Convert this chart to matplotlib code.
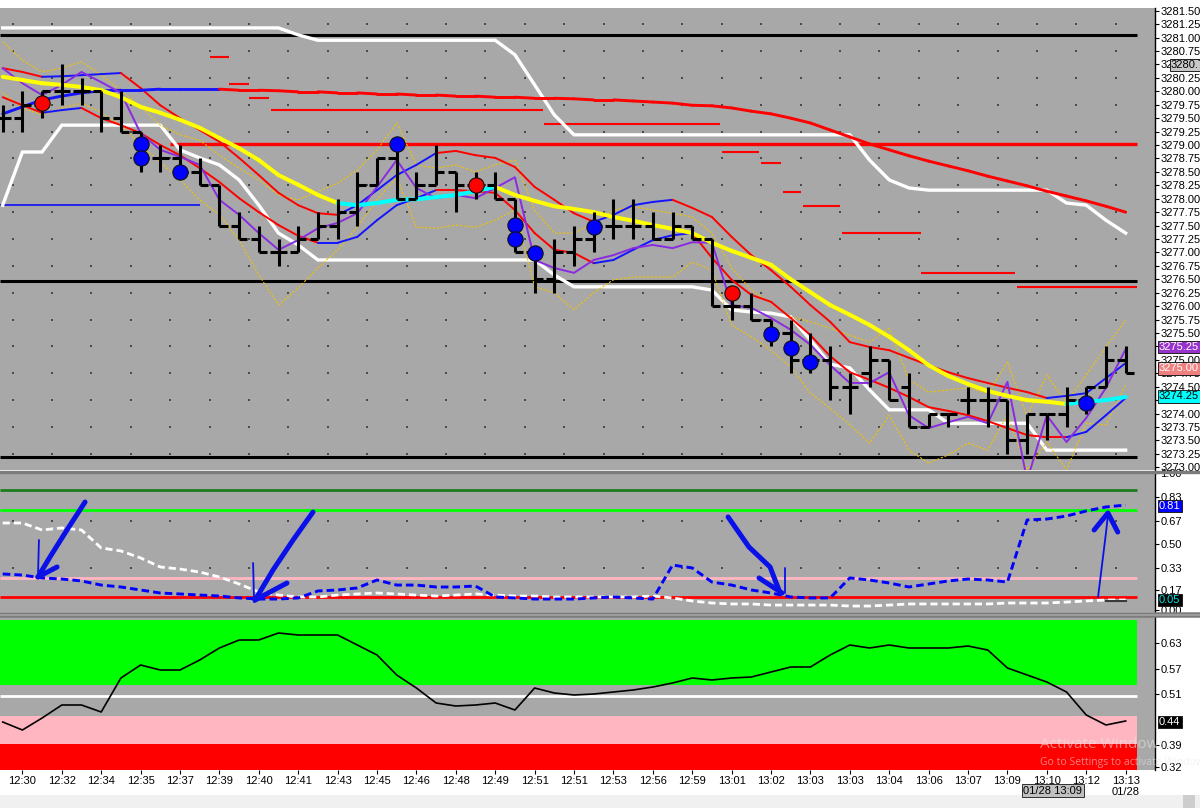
import numpy as np
import matplotlib
matplotlib.use("Agg")
import matplotlib.pyplot as plt
from matplotlib.collections import LineCollection
from matplotlib.lines import Line2D
from matplotlib.patches import Rectangle

plt.rcParams['font.family'] = ['Liberation Sans', 'DejaVu Sans']

# ------------------------------------------------------------------ data
time_labels = ["12:30", "12:32", "12:34", "12:35", "12:37", "12:39", "12:40", "12:41",
               "12:43", "12:45", "12:46", "12:48", "12:49", "12:51", "12:51", "12:53",
               "12:56", "12:59", "13:01", "13:02", "13:03", "13:03", "13:04", "13:06",
               "13:07", "13:09", "13:10", "13:12", "13:13\n01/28"]

opens = [3279.50, 3279.50, 3279.75, 3280.00, 3280.00, 3280.00, 3279.50, 3279.25, 3278.75, 3278.75,
         3278.50, 3278.25, 3277.50, 3277.25, 3277.00, 3277.00, 3277.25, 3277.50, 3277.75, 3278.25,
         3278.75, 3278.00, 3278.25, 3278.50, 3278.25, 3278.25, 3278.00, 3277.00, 3276.50, 3277.00,
         3277.25, 3277.50, 3277.50, 3277.50, 3277.25, 3277.50, 3277.25, 3276.00, 3276.00, 3275.75,
         3275.50, 3275.00, 3275.00, 3274.50, 3274.75, 3275.00, 3274.50, 3273.75, 3274.00, 3274.25,
         3274.25, 3274.25, 3273.50, 3274.00, 3274.00, 3274.25, 3274.50, 3275.00]
highs = [3279.75, 3280.00, 3280.00, 3280.50, 3280.25, 3280.00, 3280.00, 3279.25, 3279.00, 3279.00,
         3278.75, 3278.25, 3277.75, 3277.50, 3277.25, 3277.50, 3277.75, 3278.00, 3278.50, 3278.75,
         3279.00, 3278.50, 3279.00, 3278.50, 3278.50, 3278.50, 3278.00, 3277.00, 3277.25, 3277.50,
         3277.75, 3278.00, 3278.00, 3277.75, 3277.75, 3277.50, 3277.25, 3276.25, 3276.25, 3275.75,
         3275.75, 3275.50, 3275.25, 3274.75, 3275.25, 3275.00, 3274.75, 3274.00, 3274.00, 3274.50,
         3274.50, 3274.25, 3274.00, 3274.00, 3274.50, 3274.50, 3275.25, 3275.25]
lows = [3279.25, 3279.25, 3279.50, 3279.75, 3279.75, 3279.25, 3279.25, 3278.50, 3278.50, 3278.50,
        3278.25, 3277.50, 3277.25, 3277.00, 3276.75, 3277.00, 3277.25, 3277.25, 3277.50, 3278.25,
        3278.00, 3278.00, 3278.25, 3277.75, 3278.00, 3278.00, 3277.00, 3276.25, 3276.25, 3276.75,
        3277.00, 3277.25, 3277.25, 3277.25, 3277.25, 3277.25, 3276.00, 3275.75, 3275.75, 3275.25,
        3274.75, 3274.75, 3274.25, 3274.00, 3274.50, 3274.25, 3273.75, 3273.75, 3273.75, 3274.00,
        3273.75, 3273.25, 3273.25, 3273.50, 3273.75, 3274.00, 3274.50, 3274.75]
closes = [3279.50, 3279.75, 3280.00, 3280.00, 3280.00, 3279.50, 3279.25, 3278.75, 3278.75, 3278.50,
          3278.25, 3277.50, 3277.25, 3277.00, 3277.00, 3277.25, 3277.50, 3277.75, 3278.25, 3278.75,
          3278.00, 3278.25, 3278.50, 3278.25, 3278.25, 3278.00, 3277.00, 3276.50, 3277.00, 3277.25,
          3277.50, 3277.50, 3277.50, 3277.25, 3277.50, 3277.25, 3276.00, 3276.00, 3275.75, 3275.50,
          3275.00, 3275.00, 3274.50, 3274.50, 3275.00, 3274.25, 3273.75, 3274.00, 3274.00, 3274.25,
          3274.25, 3273.50, 3274.00, 3274.00, 3274.25, 3274.50, 3275.00, 3274.75]

slow_ma = [3279.58, 3279.71, 3279.84, 3279.91, 3279.97, 3280.01, 3280.02, 3280.02, 3280.04, 3280.04,
           3280.04, 3280.04, 3280.02, 3280.02, 3280.01, 3279.99, 3279.99, 3279.97, 3279.97, 3279.95,
           3279.95, 3279.93, 3279.93, 3279.91, 3279.91, 3279.89, 3279.89, 3279.87, 3279.87, 3279.86,
           3279.84, 3279.84, 3279.82, 3279.80, 3279.78, 3279.74, 3279.73, 3279.69, 3279.63, 3279.58,
           3279.50, 3279.41, 3279.28, 3279.15, 3279.02, 3278.91, 3278.80, 3278.70, 3278.61, 3278.52,
           3278.42, 3278.33, 3278.24, 3278.14, 3278.05, 3277.96, 3277.86, 3277.75]
slow_dir = [1] * 12 + [-1] * 46

mid_ma = [3280.27, 3280.21, 3280.15, 3280.12, 3280.08, 3280.02, 3279.89, 3279.71, 3279.60, 3279.47,
          3279.32, 3279.13, 3278.94, 3278.72, 3278.44, 3278.26, 3278.07, 3277.92, 3277.88, 3277.92,
          3277.98, 3277.99, 3278.03, 3278.07, 3278.14, 3278.22, 3278.07, 3277.96, 3277.86, 3277.81,
          3277.75, 3277.66, 3277.59, 3277.51, 3277.44, 3277.36, 3277.18, 3277.03, 3276.90, 3276.77,
          3276.50, 3276.26, 3276.02, 3275.84, 3275.65, 3275.43, 3275.18, 3274.90, 3274.70, 3274.55,
          3274.42, 3274.33, 3274.25, 3274.22, 3274.18, 3274.22, 3274.25, 3274.31]
mid_flag = [0] * 18 + [1] * 8 + [0] * 29 + [1] * 3

band_upper = [3280.43, 3280.36, 3280.27, 3280.28, 3280.30, 3280.32, 3280.34, 3280.06, 3279.74, 3279.50,
              3279.28, 3279.06, 3278.76, 3278.44, 3278.11, 3277.88, 3277.73, 3277.70, 3277.88, 3278.16,
              3278.44, 3278.63, 3278.85, 3278.89, 3278.81, 3278.76, 3278.59, 3278.22, 3277.98, 3277.73,
              3277.57, 3277.70, 3277.88, 3277.94, 3277.98, 3277.83, 3277.66, 3277.29, 3276.95, 3276.67,
              3276.36, 3276.02, 3275.71, 3275.33, 3275.24, 3275.18, 3275.04, 3274.90, 3274.77, 3274.66,
              3274.57, 3274.48, 3274.40, 3274.29, 3274.33, 3274.38, 3274.66, 3274.94]
upper_dir = [-1] * 3 + [1] * 4 + [-1] * 11 + [1] * 5 + [-1] * 8 + [1] * 4 + [-1] * 19 + [1] * 4

band_lower = [3279.89, 3279.74, 3279.60, 3279.65, 3279.69, 3279.50, 3279.37, 3279.22, 3279.00, 3278.81,
              3278.57, 3278.31, 3278.01, 3277.75, 3277.51, 3277.31, 3277.18, 3277.18, 3277.29, 3277.60,
              3277.88, 3278.01, 3278.16, 3278.16, 3278.14, 3278.11, 3277.79, 3277.36, 3277.05, 3276.99,
              3276.80, 3276.86, 3277.05, 3277.23, 3277.32, 3277.36, 3276.90, 3276.49, 3276.21, 3276.08,
              3275.78, 3275.46, 3275.07, 3274.77, 3274.63, 3274.48, 3274.31, 3274.12, 3274.05, 3273.97,
              3273.86, 3273.73, 3273.60, 3273.56, 3273.56, 3273.66, 3273.97, 3274.29]
lower_dir = [-1] * 3 + [1] * 2 + [-1] * 12 + [1] * 6 + [-1] * 8 + [1] * 5 + [-1] * 19 + [1] * 3

fast_line = [3280.43, 3280.15, 3279.93, 3280.12, 3280.36, 3280.17, 3279.97, 3279.22, 3278.91, 3278.78,
             3278.63, 3277.98, 3277.70, 3277.36, 3277.05, 3277.23, 3277.45, 3277.55, 3277.73, 3278.22,
             3278.72, 3278.20, 3278.01, 3278.07, 3278.01, 3278.20, 3278.40, 3276.86, 3276.71, 3276.62,
             3276.86, 3276.95, 3277.08, 3277.14, 3277.08, 3277.19, 3277.18, 3276.02, 3275.97, 3275.78,
             3275.56, 3275.28, 3274.90, 3274.57, 3274.57, 3274.77, 3273.97, 3273.73, 3273.84, 3273.94,
             3273.82, 3274.59, 3272.76, 3273.97, 3273.47, 3273.92, 3274.48, 3275.20]

env_upper = [3280.92, 3280.58, 3280.36, 3280.43, 3280.55, 3280.30, 3280.02, 3279.71, 3279.37, 3279.19,
             3279.09, 3278.81, 3278.57, 3278.35, 3278.07, 3277.98, 3278.13, 3278.29, 3278.53, 3278.91,
             3279.41, 3278.63, 3278.57, 3278.63, 3278.50, 3278.63, 3278.72, 3277.79, 3277.36, 3277.36,
             3277.55, 3277.79, 3277.85, 3277.79, 3277.73, 3277.66, 3277.36, 3276.71, 3276.30, 3276.06,
             3275.80, 3275.71, 3275.59, 3275.46, 3275.33, 3275.59, 3274.63, 3274.40, 3274.44, 3274.48,
             3274.38, 3274.96, 3273.94, 3274.72, 3274.20, 3274.72, 3275.24, 3275.74]
env_lower = [3279.97, 3279.69, 3279.56, 3279.69, 3279.78, 3279.61, 3279.37, 3279.00, 3278.68, 3278.35,
             3277.98, 3277.70, 3277.23, 3276.58, 3276.02, 3276.34, 3276.71, 3277.05, 3277.47, 3277.98,
             3278.40, 3277.47, 3277.45, 3277.51, 3277.47, 3277.60, 3277.79, 3276.36, 3276.25, 3275.93,
             3276.25, 3276.49, 3276.54, 3276.54, 3276.54, 3276.82, 3276.67, 3275.65, 3275.43, 3275.18,
             3274.87, 3274.38, 3274.10, 3273.79, 3273.45, 3273.97, 3273.32, 3273.08, 3273.23, 3273.45,
             3273.32, 3273.97, 3272.95, 3273.47, 3272.95, 3273.82, 3273.79, 3274.53]

stop_upper = ([3281.18] * 15 + [3281.05] + [3280.95] * 10 + [3280.68, 3280.12, 3279.56] +
              [3279.19] * 15 + [3278.72, 3278.35, 3278.20] + [3278.16] * 7 +
              [3277.92, 3277.88, 3277.60, 3277.36])
stop_lower = ([3277.88, 3278.87, 3278.87] + [3279.37] * 6 +
              [3278.91, 3278.76, 3278.63, 3278.35, 3277.88, 3277.36, 3277.14] + [3276.86] * 12 +
              [3276.58] + [3276.36] * 7 +
              [3276.30, 3275.93, 3275.89, 3275.87, 3275.80, 3275.37, 3274.92, 3274.85, 3274.44] +
              [3274.07] * 3 + [3273.82] * 5 + [3273.32] * 5)

buy_bars = [7, 7, 9, 20, 26, 26, 27, 30, 39, 40, 41, 55]
buy_prices = [3279.02, 3278.76, 3278.50, 3279.02, 3277.51, 3277.25, 3276.99, 3277.47,
              3275.48, 3275.22, 3274.96, 3274.20]
sell_bars = [2, 24, 37]
sell_prices = [3279.78, 3278.26, 3276.25]

level_prices = [3280.64, 3280.14, 3279.87, 3279.65, 3279.39, 3278.87, 3278.66, 3278.13,
                3277.86, 3277.36, 3276.62, 3276.36]
level_start = [10.5, 11.5, 12.5, 13.6, 27.5, 36.5, 38.5, 39.6, 40.6, 42.6, 46.6, 51.5]
level_end = [11.5, 12.5, 13.5, 27.4, 36.4, 38.4, 39.5, 40.5, 42.5, 46.6, 51.4, 57.6]
black_levels = [3281.05, 3276.47, 3273.19]
red_level, red_level_start = 3279.02, 8.5
blue_level, blue_level_end = 3277.88, 10.0

osc_blue = [0.263, 0.255, 0.234, 0.226, 0.212, 0.182, 0.168, 0.146, 0.124, 0.117,
            0.109, 0.102, 0.088, 0.080, 0.080, 0.088, 0.139, 0.146, 0.161, 0.219,
            0.182, 0.182, 0.168, 0.168, 0.175, 0.095, 0.088, 0.080, 0.080, 0.080,
            0.088, 0.095, 0.088, 0.080, 0.328, 0.307, 0.204, 0.182, 0.146, 0.124,
            0.095, 0.088, 0.088, 0.234, 0.219, 0.197, 0.168, 0.190, 0.212, 0.226,
            0.219, 0.204, 0.657, 0.664, 0.686, 0.723, 0.752, 0.766]
osc_white = [0.635, 0.635, 0.584, 0.599, 0.584, 0.453, 0.431, 0.380, 0.314, 0.299,
             0.277, 0.241, 0.190, 0.131, 0.109, 0.095, 0.095, 0.109, 0.117, 0.124,
             0.117, 0.109, 0.102, 0.109, 0.117, 0.109, 0.102, 0.102, 0.095, 0.095,
             0.095, 0.095, 0.095, 0.102, 0.088, 0.066, 0.051, 0.044, 0.044, 0.036,
             0.036, 0.036, 0.036, 0.029, 0.029, 0.036, 0.044, 0.044, 0.044, 0.044,
             0.044, 0.051, 0.051, 0.051, 0.058, 0.066, 0.073, 0.073]
osc_tail_bars = [56, 57]
osc_tail = [0.066, 0.066]
osc_levels = [0.876, 0.730, 0.234, 0.095]
osc_level_colors = ['#1c7c1c', '#00ff00', '#ffb6c1', '#ff0000']
osc_ticks = [1.0, 0.825, 0.65, 0.482, 0.307, 0.146, 0.0]
osc_tick_labels = ['1.00', '0.83', '0.67', '0.50', '0.33', '0.17', '0.00']

# hand-drawn arrows (bar index, oscillator value)
arrow_thick = [
    ([4.18, 3.26, 2.40, 1.79], [0.788, 0.584, 0.387, 0.241]),
    ([2.76, 1.79], [0.314, 0.241]),
    ([15.75, 14.74, 13.72, 12.81], [0.715, 0.511, 0.292, 0.073]),
    ([14.43, 12.81], [0.197, 0.073]),
    ([36.82, 37.88, 38.95, 39.46], [0.679, 0.460, 0.314, 0.124]),
    ([38.39, 39.56], [0.234, 0.124]),
    ([55.4, 56.1, 56.6], [0.584, 0.708, 0.569]),
]
arrow_thin = [
    ([1.84, 1.79], [0.511, 0.241]),
    ([12.71, 12.76], [0.343, 0.058]),
    ([39.71, 39.71], [0.307, 0.124]),
    ([55.6, 56.0, 56.1], [0.095, 0.562, 0.693]),
]

strength = [0.4325, 0.4125, 0.4425, 0.475, 0.475, 0.4575, 0.5425, 0.575, 0.5625, 0.5625,
            0.5875, 0.6175, 0.6375, 0.6375, 0.655, 0.65, 0.65, 0.65, 0.625, 0.60,
            0.55, 0.5175, 0.48, 0.4725, 0.475, 0.48, 0.4625, 0.5175, 0.505, 0.50,
            0.5025, 0.5075, 0.5125, 0.52, 0.53, 0.5425, 0.5375, 0.5425, 0.545, 0.5575,
            0.57, 0.57, 0.60, 0.625, 0.6175, 0.625, 0.6175, 0.6175, 0.6175, 0.6225,
            0.6125, 0.5675, 0.55, 0.5325, 0.5075, 0.45, 0.425, 0.435]
zone_green = (0.525, 0.6875)
zone_mid = 0.4975
zone_pink = (0.3775, 0.4475)
zone_red = (0.28, 0.3775)
str_ticks = [0.63, 0.565, 0.5025, 0.375, 0.32]
str_tick_labels = ['0.63', '0.57', '0.51', '0.39', '0.32']

# ------------------------------------------------------------------ figure
W, H = 1200, 808
fig = plt.figure(figsize=(W / 100, H / 100), dpi=100)
fig.patch.set_facecolor('white')
PLOT_RIGHT = 1155


def rect(top, bottom):
    return [0, 1 - bottom / H, PLOT_RIGHT / W, (bottom - top) / H]


ax1 = fig.add_axes(rect(7.5, 470))
ax2 = fig.add_axes(rect(473, 612), sharex=ax1)
ax3 = fig.add_axes(rect(617, 770), sharex=ax1)

XMIN, XMAX, DATA_END = -0.137, 58.49, 57.58
bars = np.arange(len(opens))
BG = '#a8a8a8'
FS = 8

for ax in (ax1, ax2, ax3):
    ax.set_facecolor(BG)
    for s in ('top', 'left', 'bottom'):
        ax.spines[s].set_visible(False)
    ax.spines['right'].set_color('black')
    ax.spines['right'].set_linewidth(1.0)
    ax.yaxis.tick_right()
    ax.tick_params(axis='y', direction='out', length=3, width=0.8, pad=1,
                   labelsize=FS, colors='black')
ax1.set_xlim(XMIN, XMAX)
ax1.tick_params(axis='x', bottom=False, labelbottom=False)
ax2.tick_params(axis='x', bottom=False, labelbottom=False)


def colored_line(ax, x, y, flags, c_pos, c_neg, lw, z):
    pts = np.column_stack([x, y])
    segs = np.stack([pts[:-1], pts[1:]], axis=1)
    cols = [c_pos if f > 0 else c_neg for f in flags[1:]]
    lc = LineCollection(segs, colors=cols, linewidths=lw, zorder=z, capstyle='round')
    ax.add_collection(lc)


# ---------------- main price panel
ax1.set_ylim(3272.95, 3281.56)
pt = np.arange(3273.0, 3281.51, 0.25)
ax1.set_yticks(pt)
ax1.set_yticklabels([f"{v:.2f}" for v in pt])

gx, gy = np.meshgrid(np.arange(0.5, 57.6, 2.0), np.arange(3273.25, 3281.3, 0.5))
ax1.scatter(gx.ravel(), gy.ravel(), s=1.3, c='#4a4a4a', marker='s', linewidths=0, zorder=1)

ax1.hlines(level_prices, level_start, level_end, colors='#ff0000', lw=1.5, zorder=2)
ax1.hlines(black_levels, XMIN, DATA_END, colors='black', lw=2.2, zorder=2)
ax1.hlines(red_level, red_level_start, DATA_END, colors='#ff0000', lw=2.4, zorder=2)
ax1.hlines(blue_level, XMIN, blue_level_end, colors='#0000ff', lw=1.1, zorder=2)

ax1.plot(bars, stop_upper, color='white', lw=2.4, zorder=3, solid_joinstyle='miter')
ax1.plot(bars, stop_lower, color='white', lw=2.4, zorder=3, solid_joinstyle='miter')
ax1.plot(bars, env_upper, color='#f2c200', lw=0.8, ls=(0, (2, 1.5)), zorder=3)
ax1.plot(bars, env_lower, color='#f2c200', lw=0.8, ls=(0, (2, 1.5)), zorder=3)

colored_line(ax1, bars, band_upper, upper_dir, '#1414ff', '#ff0000', 1.4, 4)
colored_line(ax1, bars, band_lower, lower_dir, '#1414ff', '#ff0000', 1.4, 4)
colored_line(ax1, bars, slow_ma, slow_dir, '#1414ff', '#ff0000', 2.1, 4)
ax1.plot(bars, fast_line, color='#8a2be2', lw=1.4, zorder=4)
colored_line(ax1, bars, mid_ma, mid_flag, '#00ffff', '#ffff00', 2.9, 5)

TICK = 0.42
ax1.vlines(bars, lows, highs, colors='black', lw=2.2, zorder=6)
ax1.hlines(opens, bars - TICK, bars, colors='black', lw=2.2, zorder=6)
ax1.hlines(closes, bars, bars + TICK, colors='black', lw=2.2, zorder=6)

ax1.plot(buy_bars, buy_prices, 'o', ms=11, mfc='#0000ff', mec='#101010', mew=0.8,
         ls='none', zorder=7)
ax1.plot(sell_bars, sell_prices, 'o', ms=11, mfc='#ff0000', mec='#101010', mew=0.8,
         ls='none', zorder=7)


def tag(ax, x, y, s, fc, tc):
    ax.text(x, y, s, transform=ax.get_yaxis_transform(), ha='left', va='center',
            fontsize=FS, color=tc, clip_on=False, zorder=10,
            bbox=dict(boxstyle='square,pad=0.12', fc=fc, ec='#202020', lw=0.7))


tag(ax1, 1.0139, 3280.49, '3280.75', '#c8c8c8', 'black')
tag(ax1, 1.0035, 3275.24, '3275.25', '#9932cc', 'white')
tag(ax1, 1.0035, 3274.84, '3275.00', '#f08080', 'white')
tag(ax1, 1.0035, 3274.32, '3274.25', '#00ffff', 'black')

# ---------------- oscillator panel
ax2.set_ylim(-0.0146, 1.0)
ax2.set_yticks(osc_ticks)
ax2.set_yticklabels(osc_tick_labels)
gx2, gy2 = np.meshgrid(np.arange(0.5, 57.6, 2.0), [0.65, 0.307])
ax2.scatter(gx2.ravel(), gy2.ravel(), s=1.3, c='#4a4a4a', marker='s', linewidths=0, zorder=1)
for lv, col in zip(osc_levels, osc_level_colors):
    ax2.hlines(lv, XMIN, DATA_END, colors=col, lw=2.0, zorder=2)
ax2.plot(bars, osc_white, color='white', lw=2.0, ls=(0, (2.6, 1.4)), zorder=3)
ax2.plot(bars, osc_blue, color='#0000ff', lw=2.1, ls=(0, (2.6, 1.4)), zorder=4)
ax2.plot(osc_tail_bars, osc_tail, color='#3a3a3a', lw=1.5, zorder=4)
for xs, ys in arrow_thick:
    ax2.plot(xs, ys, color='#0a10e8', lw=3.6, solid_capstyle='round',
             solid_joinstyle='round', zorder=8, clip_on=False)
for xs, ys in arrow_thin:
    ax2.plot(xs, ys, color='#0a10e8', lw=1.3, solid_capstyle='round', zorder=8,
             clip_on=False)
tag(ax2, 1.0035, 0.759, '0.81', '#0000ff', 'white')
tag(ax2, 1.0035, 0.073, '0.05', 'black', '#00e0e0')

# ---------------- strength panel
ax3.set_ylim(0.3125, 0.695)
ax3.set_yticks(str_ticks)
ax3.set_yticklabels(str_tick_labels)
xfrac = (DATA_END - XMIN) / (XMAX - XMIN)
ax3.axhspan(*zone_green, xmin=0, xmax=xfrac, fc='#00ff00', ec='none', zorder=1)
ax3.axhspan(*zone_pink, xmin=0, xmax=xfrac, fc='#ffb6c1', ec='none', zorder=1)
ax3.axhspan(*zone_red, xmin=0, xmax=xfrac, fc='#ff0000', ec='none', zorder=1)
ax3.hlines(zone_mid, XMIN, DATA_END, colors='white', lw=2.0, zorder=2)
ax3.plot(bars, strength, color='black', lw=1.2, zorder=4)
tag(ax3, 1.0035, 0.4325, '0.44', 'black', 'white')

ax3.set_xticks(bars[1::2])
ax3.set_xticklabels(time_labels)
ax3.tick_params(axis='x', direction='out', length=3, width=0.8, pad=1, labelsize=FS)
ax3.text(53.3, -0.135, '01/28 13:09', transform=ax3.get_xaxis_transform(),
         ha='center', va='center', fontsize=FS, color='black', clip_on=False,
         bbox=dict(boxstyle='square,pad=0.12', fc='#c0c0c0', ec='#303030', lw=0.7))

# ---------------- separators, scrollbar, watermark
for yy, lw in ((471.5, 2.4), (613.0, 1.8), (616.0, 1.8)):
    fig.add_artist(Line2D([0, 1], [1 - yy / H] * 2, transform=fig.transFigure,
                          color='#7c7c7c', lw=lw, zorder=20))
fig.add_artist(Rectangle((0, 0), 1, 13 / H, transform=fig.transFigure,
                         fc='#f0f0f0', ec='none', zorder=-5))
fig.add_artist(Rectangle((1183 / W, 0), 12 / W, 13 / H, transform=fig.transFigure,
                         fc='#cdcdcd', ec='none', zorder=-4))
fig.text(1040 / W, 1 - 745 / H, 'Activate Windows', fontsize=11, color='#e8e8e8',
         alpha=0.55, ha='left', va='center', zorder=30, family=['Open Sans', 'DejaVu Sans'])
fig.text(1040 / W, 1 - 762 / H, 'Go to Settings to activate Windows.', fontsize=7.5,
         color='#e8e8e8', alpha=0.55, ha='left', va='center', zorder=30,
         family=['Open Sans', 'DejaVu Sans'])

fig.savefig('out.png', dpi=100, facecolor='white')
